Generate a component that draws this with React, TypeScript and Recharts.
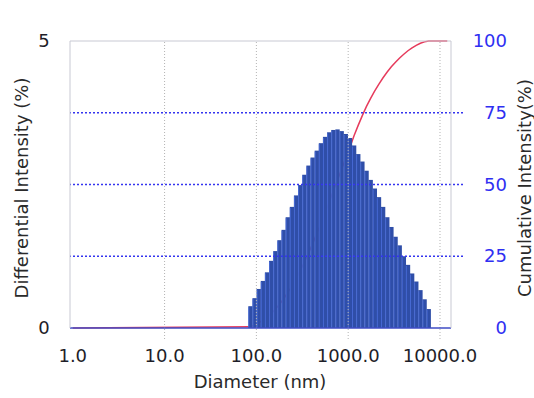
import { ComposedChart, Bar, Line, XAxis, YAxis, ReferenceLine } from 'recharts'

// bin centres (nm)
const diameters = [
  86.0, 95.4, 105.9, 117.5, 130.4, 144.7, 160.6, 178.1, 197.7, 219.3,
  243.4, 270.1, 299.6, 332.5, 368.8, 409.3, 454.2, 503.8, 559.1, 620.3,
  688.3, 763.8, 847.4, 940.4, 1043, 1158, 1285, 1425, 1582, 1755,
  1947, 2161, 2397, 2660, 2951, 3275, 3634, 4032, 4474, 4964,
  5508, 6112, 6781, 7524,
]

// differential intensity (%)
const differential = [
  0.38, 0.52, 0.68, 0.82, 0.97, 1.17, 1.34, 1.53, 1.71, 1.93,
  2.11, 2.31, 2.49, 2.67, 2.83, 2.97, 3.09, 3.22, 3.33, 3.41,
  3.45, 3.46, 3.43, 3.38, 3.31, 3.18, 3.03, 2.9, 2.74, 2.58,
  2.43, 2.28, 2.11, 1.93, 1.76, 1.59, 1.44, 1.25, 1.1, 0.95,
  0.81, 0.66, 0.5, 0.33,
]

// cumulative intensity (%)
const cumulative = [
  0.4, 1.0, 1.8, 2.7, 3.7, 5.0, 6.5, 8.2, 10.1, 12.3,
  14.6, 17.2, 19.9, 22.9, 26.0, 29.3, 32.8, 36.4, 40.0, 43.8,
  47.7, 51.5, 55.3, 59.1, 62.9, 67.0, 70.6, 74.0, 77.2, 80.0,
  82.6, 85.0, 87.2, 89.2, 91.0, 92.6, 94.1, 95.4, 96.6, 97.6,
  98.5, 99.2, 99.7, 100,
]

const cumulativeStart = { d: 1, cum: 0 }
const cumulativeEnd = { d: 12000, cum: 100 }

const xTicks = [1, 10, 100, 1000, 10000]
const xGrid = [10, 100, 1000, 10000]
const leftTicks = [0, 5]
const rightTicks = [0, 25, 50, 75, 100]
const rightGrid = [25, 50, 75]

const data = [
  cumulativeStart,
  ...diameters.map((d, i) => ({ d, diff: differential[i], cum: cumulative[i] })),
  cumulativeEnd,
]

const FONT = '"DejaVu Sans", Verdana, sans-serif'
const BORDER = '#c8c9d3'

function XTick({ x, payload }: any) {
  return (
    <g>
      {payload.value > 1 && (
        <line x1={x} x2={x} y1={329} y2={340} stroke="#b4b4b4" strokeDasharray="1 2" />
      )}
      <text x={x} y={362} textAnchor="middle" fontSize={18} fontFamily={FONT} fill="#1e1e28">
        {payload.value.toFixed(1)}
      </text>
    </g>
  )
}

function LeftTick({ y, payload }: any) {
  return (
    <text x={44} y={y} dy={6} textAnchor="middle" fontSize={18} fontFamily={FONT} fill="#1e1e28">
      {payload.value}
    </text>
  )
}

function RightTick({ y, payload }: any) {
  const v = payload.value
  return (
    <g>
      {rightGrid.includes(v) && (
        <line x1={453} x2={463} y1={y} y2={y} stroke="#3434f0" strokeWidth={1.4} strokeDasharray="2 2" />
      )}
      <text x={507} y={y} dy={6} textAnchor="end" fontSize={18} fontFamily={FONT} fill="#2f2ff2">
        {v}
      </text>
    </g>
  )
}

// contiguous histogram column, a light edge on the left like the original
function Column({ x, y, width, height }: any) {
  if (!height || height <= 0) return null
  return (
    <g>
      <rect x={x} y={y} width={width + 0.6} height={height} fill="#2f4ea8" />
      <line x1={x + 0.5} x2={x + 0.5} y1={y + 1} y2={y + height} stroke="#4d70de" strokeWidth={0.8} />
    </g>
  )
}

const titleStyle = {
  position: 'absolute' as const,
  whiteSpace: 'nowrap' as const,
  fontFamily: FONT,
  fontSize: 18,
  color: '#2a2a2a',
  lineHeight: 1,
}

export default function App() {
  return (
    <div style={{ position: 'relative', width: 534, height: 398, background: '#fff' }}>
      <style>{'body{margin:0}'}</style>
      <ComposedChart
        width={534}
        height={398}
        data={data}
        margin={{ top: 41, right: 0, bottom: 0, left: 0 }}
      >
        <XAxis
          dataKey="d"
          type="number"
          scale="log"
          domain={[0.933, 13180]}
          allowDataOverflow
          ticks={xTicks}
          tick={<XTick />}
          tickLine={false}
          axisLine={{ stroke: '#3f4cc4', strokeWidth: 1.6 }}
          height={70}
        />
        <YAxis
          yAxisId="left"
          domain={[0, 5]}
          ticks={leftTicks}
          tick={<LeftTick />}
          tickLine={false}
          axisLine={{ stroke: BORDER }}
          width={70}
        />
        <YAxis
          yAxisId="right"
          orientation="right"
          domain={[0, 100]}
          ticks={rightTicks}
          tick={<RightTick />}
          tickLine={false}
          axisLine={{ stroke: BORDER }}
          width={83}
        />
        <ReferenceLine yAxisId="left" y={5} stroke={BORDER} />
        {xGrid.map((v) => (
          <ReferenceLine key={v} yAxisId="left" x={v} stroke="#b4b4b4" strokeDasharray="1 2" />
        ))}
        {rightGrid.map((v) => (
          <ReferenceLine
            key={v}
            yAxisId="right"
            y={v}
            stroke="#3434f0"
            strokeWidth={1.4}
            strokeDasharray="2 2"
          />
        ))}
        <Line
          yAxisId="right"
          dataKey="cum"
          type="linear"
          stroke="#e63b5c"
          strokeWidth={1.5}
          dot={false}
          zIndex={250}
          isAnimationActive={false}
        />
        <Bar
          yAxisId="left"
          dataKey="diff"
          barSize={4.15}
          shape={<Column />}
          zIndex={300}
          isAnimationActive={false}
        />
      </ComposedChart>
      <div style={{ ...titleStyle, left: 22, top: 188, transform: 'translate(-50%, -50%) rotate(-90deg)' }}>
        Differential Intensity (%)
      </div>
      <div style={{ ...titleStyle, left: 525, top: 188, transform: 'translate(-50%, -50%) rotate(-90deg)' }}>
        Cumulative Intensity(%)
      </div>
      <div style={{ ...titleStyle, left: 260, top: 382, transform: 'translate(-50%, -50%)' }}>
        Diameter (nm)
      </div>
    </div>
  )
}
